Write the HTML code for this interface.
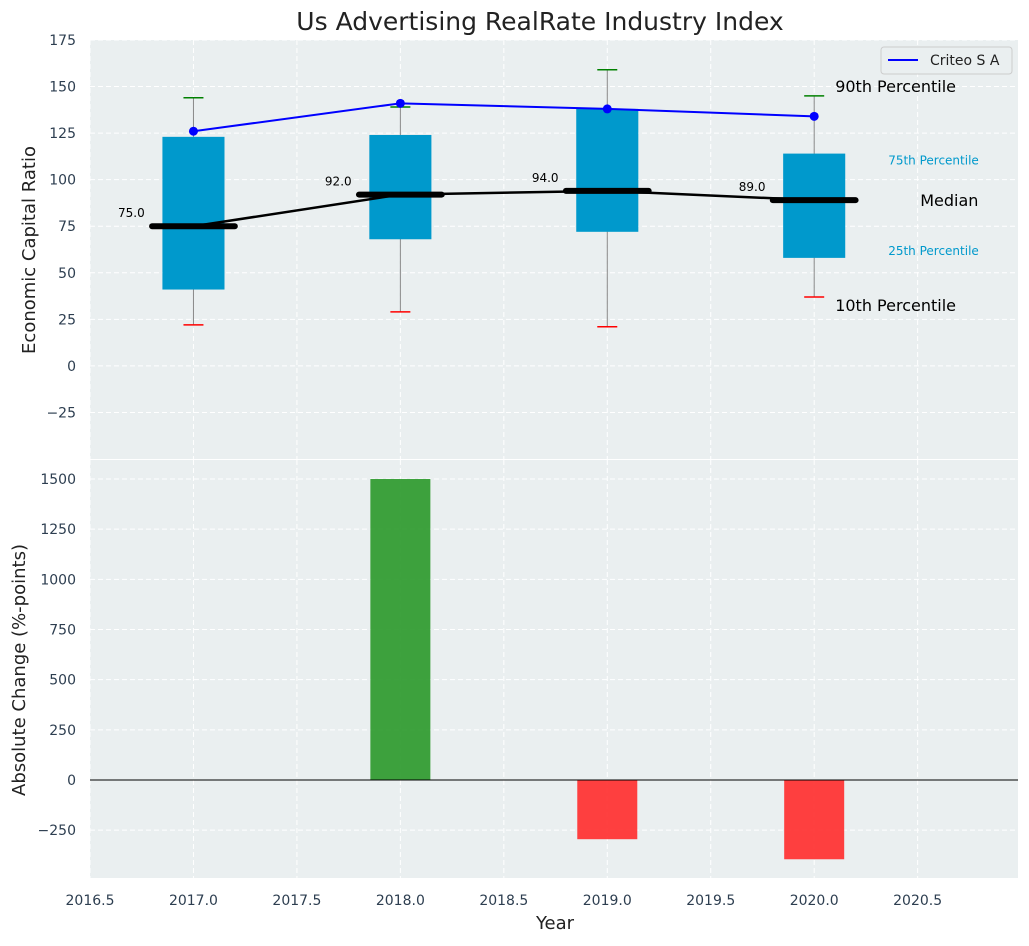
<!DOCTYPE html>
<html><head><meta charset="utf-8"><style>
body{margin:0;background:#fff;font-family:"DejaVu Sans","Liberation Sans",sans-serif}
</style></head><body>
<svg id="c" width="1029" height="942" xmlns="http://www.w3.org/2000/svg" font-family="DejaVu Sans, Liberation Sans, sans-serif"></svg>
<script>
const years=[2017,2018,2019,2020];
const p10=[22,29,21,37];
const q1=[41,68,72,58];
const medians=[75,92,94,89];
const q3=[123,124,138,114];
const p90=[144,139,159,145];
const criteo=[126,141,138,134];
const changes=[0,1500,-295,-395];
const xTicks=[2016.5,2017,2017.5,2018,2018.5,2019,2019.5,2020,2020.5];
const yTopTicks=[-25,0,25,50,75,100,125,150,175];
const yBotTicks=[-250,0,250,500,750,1000,1250,1500];

const svg=document.getElementById('c');
const NS='http://www.w3.org/2000/svg';
function el(t,a,txt){const e=document.createElementNS(NS,t);for(const k in a)e.setAttribute(k,a[k]);if(txt!==undefined)e.textContent=txt;svg.appendChild(e);return e;}
const fmt=v=>String(v).replace('-','\u2212');
const L=90,R=1018;
const X=v=>L+(v-2016.5)/(2020.985-2016.5)*(R-L);
const T0=40,T1=459;
const YT=v=>T0+(175-v)/(225)*(T1-T0);
const B0=460,B1=878;
const YB=v=>780-v*(301/1500);

let e=el('rect',{x:L,y:T0,width:R-L,height:T1-T0,fill:'#eaeff0'});

e=el('rect',{x:L,y:B0,width:R-L,height:B1-B0,fill:'#eaeff0'});


xTicks.forEach(t=>{
  e=el('line',{x1:X(t),x2:X(t),y1:T0,y2:T1,stroke:'#fff','stroke-dasharray':'5,3','stroke-width':1});
  
  e=el('line',{x1:X(t),x2:X(t),y1:B0,y2:B1,stroke:'#fff','stroke-dasharray':'5,3','stroke-width':1});
  
  e=el('text',{x:X(t),y:905,'text-anchor':'middle','font-size':14,fill:'#2d3e50'},t.toFixed(1));
  
});
yTopTicks.forEach(t=>{
  e=el('line',{x1:L,x2:R,y1:YT(t),y2:YT(t),stroke:'#fff','stroke-dasharray':'5,3'});
  
  e=el('text',{x:76,y:YT(t)+5,'text-anchor':'end','font-size':14,fill:'#2d3e50'},fmt(t));
  
});
yBotTicks.forEach(t=>{
  e=el('line',{x1:L,x2:R,y1:YB(t),y2:YB(t),stroke:'#fff','stroke-dasharray':'5,3'});
  
  e=el('text',{x:76,y:YB(t)+5,'text-anchor':'end','font-size':14,fill:'#2d3e50'},fmt(t));
  
});

const bw=0.3;
years.forEach((y,i)=>{
  e=el('line',{x1:X(y),x2:X(y),y1:YT(p90[i]),y2:YT(p10[i]),stroke:'#888','stroke-width':1});
  
  e=el('rect',{x:X(y-bw/2),y:YT(q3[i]),width:X(y+bw/2)-X(y-bw/2),height:YT(q1[i])-YT(q3[i]),fill:'#0099cc'});
  
  e=el('line',{x1:X(y)-10,x2:X(y)+10,y1:YT(p90[i]),y2:YT(p90[i]),stroke:'green','stroke-width':1.5});
  
  e=el('line',{x1:X(y)-10,x2:X(y)+10,y1:YT(p10[i]),y2:YT(p10[i]),stroke:'red','stroke-width':1.5});
  
});
e=el('polyline',{points:years.map((y,i)=>X(y)+','+YT(medians[i])).join(' '),fill:'none',stroke:'#000','stroke-width':2.5});

years.forEach((y,i)=>{
  e=el('line',{x1:X(y-0.2),x2:X(y+0.2),y1:YT(medians[i]),y2:YT(medians[i]),stroke:'#000','stroke-width':6,'stroke-linecap':'round'});
  
  e=el('text',{x:X(y-0.3),y:YT(medians[i])-9,'text-anchor':'middle','font-size':12,fill:'#000'},medians[i].toFixed(1));
  
});
e=el('polyline',{points:years.map((y,i)=>X(y)+','+YT(criteo[i])).join(' '),fill:'none',stroke:'blue','stroke-width':2});

years.forEach((y,i)=>{
  e=el('circle',{cx:X(y),cy:YT(criteo[i]),r:4.5,fill:'blue'});
  
});
const li=years.length-1, ax=X(years[li]);
e=el('text',{x:ax+21,y:YT(p90[li])-4,'font-size':16,fill:'#000'},'90th Percentile');
e=el('text',{x:ax+21,y:YT(p10[li])+14,'font-size':16,fill:'#000'},'10th Percentile');
e=el('text',{x:ax+74,y:YT(q3[li])+11,'font-size':12,fill:'#0099cc'},'75th Percentile');
e=el('text',{x:ax+74,y:YT(q1[li])-3,'font-size':12,fill:'#0099cc'},'25th Percentile');
e=el('text',{x:ax+106,y:YT(medians[li])+6,'font-size':16,fill:'#000'},'Median');

e=el('rect',{x:881,y:47,width:131,height:27,fill:'#eaeff0',stroke:'#ccc',rx:3});
e=el('line',{x1:888,x2:918,y1:60,y2:60,stroke:'blue','stroke-width':2});
e=el('text',{x:930,y:65,'font-size':14,fill:'#222'},'Criteo S A');

years.forEach((y,i)=>{
  const v=changes[i]; if(v===0) return;
  e=el('rect',{x:X(y-0.145),y:Math.min(YB(v),YB(0)),width:X(y+0.145)-X(y-0.145),height:Math.abs(YB(v)-YB(0)),fill:v>0?'#2e9a2e':'#ff3030','fill-opacity':0.92});
  
});
e=el('line',{x1:L,x2:R,y1:YB(0),y2:YB(0),stroke:'#000','stroke-width':1});

e=el('text',{x:540,y:30,'text-anchor':'middle','font-size':25,fill:'#222'},'Us Advertising RealRate Industry Index');
e=el('text',{x:555,y:929,'text-anchor':'middle','font-size':18,fill:'#222'},'Year');
e=el('text',{x:35,y:250,'text-anchor':'middle','font-size':18,fill:'#222',transform:'rotate(-90 35 250)'},'Economic Capital Ratio');
e=el('text',{x:25,y:670,'text-anchor':'middle','font-size':18,fill:'#222',transform:'rotate(-90 25 670)'},'Absolute Change (%-points)');
</script>
</body></html>
